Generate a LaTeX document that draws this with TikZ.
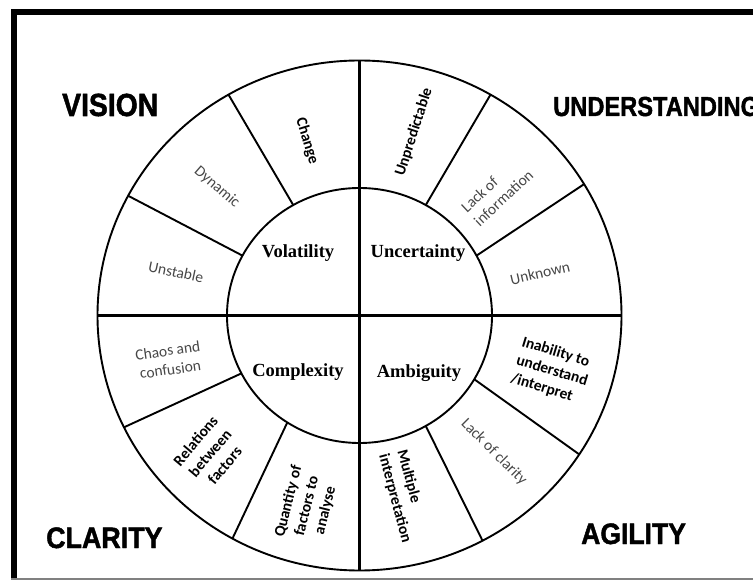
\documentclass[tikz,border=0pt]{standalone}
\usepackage{graphicx}
\usepackage{fontspec}
\setmainfont{Liberation Serif}
\newfontfamily\headfont[FakeBold=1.6]{Liberation Sans Bold}
\newfontfamily\ringfont{Carlito}
\usetikzlibrary{calc}
\begin{document}
\begin{tikzpicture}[x=1pt,y=-1pt,
  spokeline/.style={line width=1.9pt},
  axisline/.style={line width=2.7pt},
  ringline/.style={line width=1.9pt},
  head/.style={inner sep=0pt, anchor=base west},
  core/.style={font=\fontsize{18.5}{20}\selectfont\bfseries, inner sep=0pt},
  lab/.style={font=\ringfont\fontsize{15.5}{19}\selectfont, text=black!72, inner sep=0pt},
  labb/.style={font=\ringfont\bfseries\fontsize{15.5}{19}\selectfont, text=black, inner sep=0pt},
]
\useasboundingbox (0,0) rectangle (753,580);
\clip (0,0) rectangle (753,580);
% frame
\fill[black] (11,9.5) rectangle (753,15.5);
\fill[black] (11,9.5) rectangle (16.5,580);
\draw[black!50, line width=1.5pt] (11,578.8) -- (753,578.8);

\coordinate (c) at (359.5,315.5);
% ellipses
\draw[ringline] (c) ellipse [x radius=262pt, y radius=255pt];
\draw[ringline] (c) ellipse [x radius=132.5pt, y radius=127.5pt];
% axes
\draw[axisline] ($(c)+(180:262pt and 255pt)$) -- ($(c)+(0:262pt and 255pt)$);
\draw[axisline] ($(c)+(90:262pt and 255pt)$) -- ($(c)+(270:262pt and 255pt)$);
% spokes (inner angle / outer angle)
\foreach \a/\b in {60/60, 28/31, 120/120, 152/152, 207/206, 237/241, 300/298, 330/327}{
  \draw[spokeline] ($(c)+(\a:132.5pt and 127.5pt)$) -- ($(c)+(\b:262pt and 255pt)$);
}

% core labels
\node[core] (vol) at (298,253) {Volatility};
\node[core] (unc) at (418,253) {Uncertainty};
\node[core] (cpx) at (298,372) {Complexity};
\node[core] (amb) at (419,373) {Ambiguity};

% ring labels
\node[labb, rotate=-73] (change) at (307,141) {Change};
\node[labb, rotate=72] (unpred) at (414,132) {Unpredictable};
\node[lab, rotate=-41] (dynamic) at (217,187) {Dynamic};
\node[lab, rotate=43, align=left] (lackinfo) at (497,191) {Lack of\\information};
\node[lab, rotate=-12] (unstable) at (176,272) {Unstable};
\node[lab, rotate=13] (unknown) at (540,273) {Unknown};
\node[lab, rotate=8, align=center] (chaos) at (169,360) {Chaos and\\confusion};
\node[labb, rotate=50, align=center] (rel) at (210,453) {Relations\\between\\factors};
\node[labb, rotate=76, align=center] (quant) at (307,506) {Quantity of\\factors to\\analyse};
\node[labb, rotate=-75, align=left] (mult) at (404,496) {Multiple\\interpretation};
\node[lab, rotate=-45] (lackclar) at (494,452) {Lack of clarity};
\node[labb, rotate=-17, align=left] (inab) at (552,371) {Inability to\\understand\\/interpret};

% headings
\node[head] (vision) at (62,116) {\headfont\fontsize{32}{32}\selectfont\scalebox{0.885}[1]{VISION}};
\node[head] (under) at (553,116) {\headfont\fontsize{27.5}{28}\selectfont\scalebox{0.86}[1]{UNDERSTANDING}};
\node[head] (clarity) at (46,548) {\headfont\fontsize{29.5}{30}\selectfont\scalebox{0.91}[1]{CLARITY}};
\node[head] (agility) at (581,544) {\headfont\fontsize{29.5}{30}\selectfont\scalebox{0.9}[1]{AGILITY}};
\end{tikzpicture}
\end{document}
